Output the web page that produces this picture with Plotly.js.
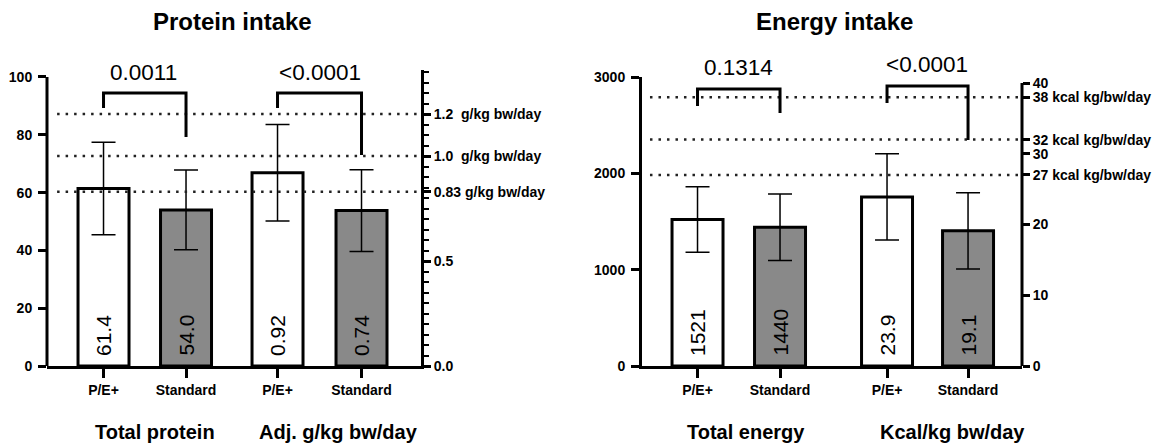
<!DOCTYPE html>
<html>
<head>
<meta charset="utf-8">
<script src="https://cdn.plot.ly/plotly-3.0.1.min.js"></script>
<style>html,body{margin:0;padding:0;background:#fff;}#chart{width:1168px;height:447px;}</style>
</head>
<body>
<div id="chart"></div>
<script>
// ---------- data ----------
const groupCats = ["P/E+", "Standard"];
const totalProtein = [61.4, 54.0];
const totalProteinSD = [16.0, 13.8];
const adjProtein = [0.92, 0.74];
const adjProteinSD = [0.23, 0.195];
const proteinRefVals = [1.2, 1.0, 0.83];
const proteinRefLabels = ["1.2\u00a0\u00a0g/kg bw/day", "1.0\u00a0\u00a0g/kg bw/day", "0.83 g/kg bw/day"];
const proteinP = ["0.0011", "<0.0001"];

const totalEnergy = [1521, 1440];
const totalEnergySD = [340, 345];
const kcalPerKg = [23.9, 19.1];
const kcalPerKgSD = [6.1, 5.4];
const energyRefVals = [38, 32, 27];
const energyRefLabels = ["38 kcal kg/bw/day", "32 kcal kg/bw/day", "27 kcal kg/bw/day"];
const energyP = ["0.1314", "<0.0001"];

const groupLabels = ["Total protein", "Adj. g/kg bw/day", "Total energy", "Kcal/kg bw/day"];
const chartTitles = ["Protein intake", "Energy intake"];

// ---------- layout positions (not data) ----------
const posL1 = [1, 2], posL2 = [3.109, 4.127];
const posR1 = [1, 2], posR2 = [3.297, 4.279];
const W = 1168, H = 447;
const FONT = "Liberation Sans, Arial, sans-serif";
const GRAY = "#898989";
const barW = 0.618;
const fills = ["#ffffff", GRAY];

const annotations = [];
function barTrace(x, y, sd, xa, ya, fmt) {
  y.forEach((v, i) => annotations.push({xref: xa, yref: ya, x: x[i], y: 0, text: v.toFixed(fmt), textangle: -90,
    showarrow: false, xanchor: "center", yanchor: "bottom", yshift: 8, font: {family: FONT, size: 21, color: "#000"}}));
  return {
    type: "bar", x: x, y: y, xaxis: xa, yaxis: ya, width: barW,
    marker: {color: fills, line: {color: "#000", width: 3}},
    error_y: {type: "data", array: sd, visible: true, color: "#000", thickness: 1.5, width: 12},
    hoverinfo: "none", showlegend: false, cliponaxis: false
  };
}

const data = [
  barTrace(posL1, totalProtein, totalProteinSD, "x", "y", 1),
  barTrace(posL2, adjProtein, adjProteinSD, "x", "y2", 2),
  barTrace(posR1, totalEnergy, totalEnergySD, "x2", "y3", 0),
  barTrace(posR2, kcalPerKg, kcalPerKgSD, "x2", "y4", 1)
];

const tickFont = {family: FONT, size: 14, color: "#000", weight: "bold"};
const yDomL = [(H - 366) / H, (H - 70) / H];
const yDomR = [(H - 366) / H, (H - 77) / H];

function xax(domain, range, tickvals) {
  return {domain: domain, range: range, tickmode: "array", tickvals: tickvals, ticktext: groupCats.concat(groupCats),
    ticks: "outside", ticklen: 9, tickwidth: 3, tickcolor: "#000", showline: true, linewidth: 3, linecolor: "#000",
    showgrid: false, zeroline: false, tickfont: {family: FONT, size: 14, color: "#000", weight: "bold"}, fixedrange: true};
}
function yax(extra) {
  return Object.assign({ticks: "outside", ticklen: 8, tickwidth: 3, tickcolor: "#000", showgrid: false, zeroline: false,
    showline: false, tickfont: tickFont, fixedrange: true}, extra);
}

const shapes = [];
shapes.push({type: "line", xref: "x domain", yref: "y", x0: 0, x1: 0, y0: 0, y1: 100, line: {color: "#000", width: 3}});
shapes.push({type: "line", xref: "x2 domain", yref: "y4", x0: 1, x1: 1, y0: 0, y1: 40, line: {color: "#000", width: 3}});
proteinRefVals.forEach(v => shapes.push({type: "line", xref: "x domain", yref: "y2", x0: 0.027, x1: 1, y0: v, y1: v,
  line: {color: "#222", width: 2.5, dash: "2.5px,6px"}}));
energyRefVals.forEach(v => shapes.push({type: "line", xref: "x2 domain", yref: "y4", x0: 0.021, x1: 1, y0: v, y1: v,
  line: {color: "#222", width: 2.5, dash: "2.5px,6px"}}));

// significance brackets [xa, ya, xLeft, xRight, top, leftBottom, rightBottom]
const brackets = [
  ["x", "y", posL1[0], posL1[1], 94.5, 89.3, 79.2],
  ["x", "y", posL2[0], posL2[1], 94.5, 89.3, 73.0],
  ["x2", "y3", posR1[0], posR1[1], 2876, 2699, 2626],
  ["x2", "y3", posR2[0], posR2[1], 2907, 2730, 2346]
];
brackets.forEach(b => shapes.push({type: "path", xref: b[0], yref: b[1],
  path: `M ${b[2]},${b[5]} L ${b[2]},${b[4]} L ${b[3]},${b[4]} L ${b[3]},${b[6]}`,
  line: {color: "#000", width: 3}}));

const pTexts = proteinP.concat(energyP);
const pPos = [[143, 72], [320, 72], [738, 67], [927, 65]];
pTexts.forEach((t, i) => annotations.push({xref: "paper", yref: "paper", x: pPos[i][0] / W, y: 1 - pPos[i][1] / H,
  text: t, showarrow: false, xanchor: "center", yanchor: "middle", font: {family: FONT, size: 22.5, color: "#000"}}));

const titlePos = [[232, 22], [834, 22]];
chartTitles.forEach((t, i) => annotations.push({xref: "paper", yref: "paper", x: titlePos[i][0] / W, y: 1 - titlePos[i][1] / H,
  text: t, showarrow: false, xanchor: "center", yanchor: "middle", font: {family: FONT, size: 24, color: "#000", weight: "bold"}}));

const glPos = [[155, 432], [338, 432], [746, 432], [952, 432]];
groupLabels.forEach((t, i) => annotations.push({xref: "paper", yref: "paper", x: glPos[i][0] / W, y: 1 - glPos[i][1] / H,
  text: t, showarrow: false, xanchor: "center", yanchor: "middle", font: {family: FONT, size: 20, color: "#000", weight: "bold"}}));

const layout = {
  width: W, height: H, autosize: false, margin: {l: 0, r: 0, t: 0, b: 0, pad: 0},
  paper_bgcolor: "#fff", plot_bgcolor: "rgba(0,0,0,0)", barmode: "overlay", showlegend: false,
  font: {family: FONT, color: "#000"},
  xaxis: xax([47 / W, 421 / W], [0.315, 4.848], posL1.concat(posL2)),
  xaxis2: xax([642 / W, 1022 / W], [0.327, 4.933], posR1.concat(posR2)),
  yaxis: yax({domain: yDomL, anchor: "x", range: [0, 102.42], tickmode: "array", tickvals: [0, 20, 40, 60, 80, 100], ticklabelstandoff: 3}),
  yaxis2: yax({domain: yDomL, anchor: "x", overlaying: "y", side: "right", range: [0, 1.4095], showline: true, linewidth: 3, linecolor: "#000",
    tickmode: "array", tickvals: [0, 0.5].concat(proteinRefVals), ticktext: ["0.0", "0.5"].concat(proteinRefLabels), ticklen: 7,
    minor: {tickmode: "linear", tick0: 0, dtick: 0.05, ticks: "outside", ticklen: 5, tickwidth: 2, tickcolor: "#000"}}),
  yaxis3: yax({domain: yDomR, anchor: "x2", range: [0, 3000], showline: true, linewidth: 3, linecolor: "#000",
    tickmode: "array", tickvals: [0, 1000, 2000, 3000], ticklabelstandoff: 3}),
  yaxis4: yax({domain: yDomR, anchor: "x2", overlaying: "y3", side: "right", range: [0, 40.85], ticklen: 7,
    tickmode: "array", tickvals: [0, 10, 20, 30, 40].concat(energyRefVals), ticktext: ["0", "10", "20", "30", "40"].concat(energyRefLabels)}),
  shapes: shapes, annotations: annotations
};

Plotly.newPlot("chart", data, layout, {displayModeBar: false, staticPlot: true});
</script>
</body>
</html>
